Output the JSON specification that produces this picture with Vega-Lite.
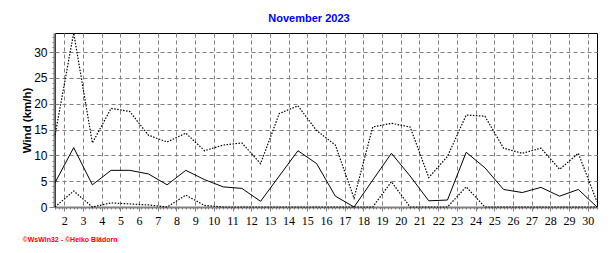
{
  "$schema": "https://vega.github.io/schema/vega-lite/v6.json",
  "width": 542,
  "height": 174,
  "autosize": {"type": "none"},
  "padding": {"left": 55, "top": 33, "right": 19, "bottom": 46},
  "background": "white",
  "title": {"text": "November 2023", "color": "#0000ff", "font": "Liberation Sans", "fontSize": 11, "fontWeight": "bold", "offset": 7, "dx": -17, "anchor": "middle"},
  "config": {"view": {"stroke": "black", "strokeWidth": 1}},
  "data": {"values": [
    {"day": 1, "mean": 4.7, "max": 13.9, "min": 0},
    {"day": 2, "mean": 11.5, "max": 33.7, "min": 3.1},
    {"day": 3, "mean": 4.3, "max": 12.4, "min": 0},
    {"day": 4, "mean": 7.1, "max": 19.1, "min": 0.8},
    {"day": 5, "mean": 7.1, "max": 18.5, "min": 0.6},
    {"day": 6, "mean": 6.4, "max": 13.9, "min": 0.4},
    {"day": 7, "mean": 4.3, "max": 12.6, "min": 0},
    {"day": 8, "mean": 7.1, "max": 14.3, "min": 2.3},
    {"day": 9, "mean": 5.3, "max": 10.9, "min": 0.3},
    {"day": 10, "mean": 3.9, "max": 12.0, "min": 0},
    {"day": 11, "mean": 3.6, "max": 12.4, "min": 0},
    {"day": 12, "mean": 1.1, "max": 8.4, "min": 0},
    {"day": 13, "mean": 6.0, "max": 18.1, "min": 0},
    {"day": 14, "mean": 10.9, "max": 19.6, "min": 0},
    {"day": 15, "mean": 8.4, "max": 14.8, "min": 0},
    {"day": 16, "mean": 2.1, "max": 12.0, "min": 0},
    {"day": 17, "mean": 0, "max": 1.7, "min": 0},
    {"day": 18, "mean": 5.2, "max": 15.5, "min": 0},
    {"day": 19, "mean": 10.4, "max": 16.2, "min": 4.9},
    {"day": 20, "mean": 6.0, "max": 15.5, "min": 0},
    {"day": 21, "mean": 1.2, "max": 5.7, "min": 0},
    {"day": 22, "mean": 1.35, "max": 9.8, "min": 0},
    {"day": 23, "mean": 10.6, "max": 17.8, "min": 3.9},
    {"day": 24, "mean": 7.6, "max": 17.6, "min": 0},
    {"day": 25, "mean": 3.4, "max": 11.4, "min": 0},
    {"day": 26, "mean": 2.8, "max": 10.4, "min": 0},
    {"day": 27, "mean": 3.8, "max": 11.4, "min": 0},
    {"day": 28, "mean": 2.1, "max": 7.3, "min": 0},
    {"day": 29, "mean": 3.4, "max": 10.4, "min": 0},
    {"day": 30, "mean": 0, "max": 1.0, "min": 0}
  ]},
  "layer": [
    {
      "mark": {"type": "line", "color": "black", "strokeWidth": 1},
      "encoding": {
        "x": {"field": "day", "type": "quantitative",
          "scale": {"domain": [1, 30], "nice": false, "zero": false},
          "axis": {"orient": "bottom",
            "values": [1.5,2.5,3.5,4.5,5.5,6.5,7.5,8.5,9.5,10.5,11.5,12.5,13.5,14.5,15.5,16.5,17.5,18.5,19.5,20.5,21.5,22.5,23.5,24.5,25.5,26.5,27.5,28.5,29.5],
            "labelExpr": "format(datum.value + 0.5, 'd')",
            "grid": true, "gridColor": "#808080", "gridDash": [4, 3], "gridWidth": 1,
            "tickColor": "#808080", "tickSize": 4, "tickWidth": 1,
            "domainColor": "#808080", "domainWidth": 2,
            "labelFont": "Liberation Sans Narrow", "labelFontSize": 12, "labelColor": "black", "labelPadding": 4,
            "labelFlush": false, "labelOverlap": false,
            "title": "©WsWin32 - ©Heiko Blädorn", "titleColor": "#ff0000", "titleFont": "Liberation Sans",
            "titleFontSize": 7, "titleFontWeight": "bold", "titleAnchor": "start", "titleAlign": "left",
            "titleX": -33, "titleY": 34.5, "titleBaseline": "alphabetic"}},
        "y": {"field": "mean", "type": "quantitative",
          "scale": {"domain": [0, 33.7], "nice": false, "zero": true},
          "axis": {"orient": "left", "values": [0, 5, 10, 15, 20, 25, 30], "offset": 1,
            "grid": true, "gridColor": "#808080", "gridDash": [4, 3], "gridWidth": 1,
            "tickColor": "#808080", "tickSize": 5, "tickWidth": 1,
            "domainColor": "#808080", "domainWidth": 2,
            "labelFont": "Liberation Sans", "labelFontSize": 12, "labelColor": "black", "labelPadding": 2,
            "labelFlush": false, "labelOverlap": false,
            "title": "Wind  (km/h)", "titleFont": "Liberation Sans", "titleFontSize": 11.5, "titleFontWeight": "bold",
            "titleColor": "black", "titleX": -23.5, "titleY": 87, "titleBaseline": "alphabetic", "titleAngle": -90}}
      }
    },
    {
      "mark": {"type": "line", "color": "black", "strokeWidth": 1.2, "strokeDash": [1.5, 1.5]},
      "encoding": {
        "x": {"field": "day", "type": "quantitative",
          "scale": {"domain": [1, 30], "nice": false, "zero": false},
          "axis": {"orient": "bottom", "tickCount": 150, "labels": false, "grid": false, "domain": false,
            "ticks": true, "tickSize": 2, "tickColor": "#808080", "title": null}},
        "y": {"field": "max", "type": "quantitative",
          "scale": {"domain": [0, 33.7], "nice": false, "zero": true},
          "axis": {"orient": "left", "tickCount": 34, "offset": 1, "labels": false, "grid": false, "domain": false,
            "ticks": true, "tickSize": 2, "tickColor": "#808080", "title": null}}
      }
    },
    {
      "mark": {"type": "line", "color": "black", "strokeWidth": 1.2, "strokeDash": [1.5, 1.5]},
      "encoding": {
        "x": {"field": "day", "type": "quantitative", "scale": {"domain": [1, 30], "nice": false, "zero": false}, "axis": null},
        "y": {"field": "min", "type": "quantitative", "scale": {"domain": [0, 33.7], "nice": false, "zero": true}, "axis": null}
      }
    }
  ],
  "resolve": {"axis": {"x": "independent", "y": "independent"}}
}
